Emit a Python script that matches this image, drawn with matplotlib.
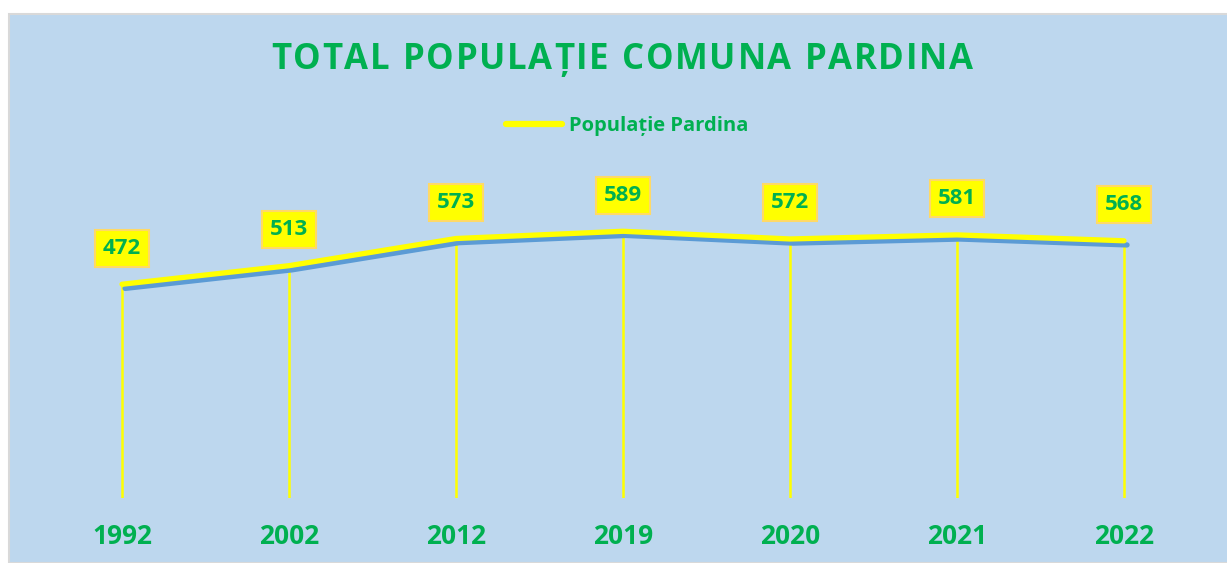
import matplotlib
matplotlib.use('Agg')
import matplotlib.pyplot as plt
import matplotlib.patheffects as pe
from matplotlib.patches import Rectangle

# data
years = ['1992', '2002', '2012', '2019', '2020', '2021', '2022']
population = [472, 513, 573, 589, 572, 581, 568]
series_name = 'Populație Pardina'
title = 'TOTAL POPULAȚIE COMUNA PARDINA'

GREEN = '#00B050'
YELLOW = '#FFFF00'
BG = '#BDD7EE'
SHADOW = '#5B9BD5'

plt.rcParams['font.family'] = ['Open Sans', 'DejaVu Sans']
plt.rcParams['font.weight'] = 'bold'

W, H = 1227, 563
fig = plt.figure(figsize=(W / 100, H / 100), dpi=100)
fig.patch.set_facecolor('white')

# chart area background with thin grey border
fig.patches.append(Rectangle((9 / W, 0), 1, 1 - 14 / H, transform=fig.transFigure,
                             facecolor=BG, edgecolor='#D9D9D9', linewidth=1.5, zorder=-5))

left, right, bottom, top = 38.5, 1207.5, 498, 181
ax = fig.add_axes([left / W, 1 - bottom / H, (right - left) / W, (bottom - top) / H])
ax.patch.set_alpha(0)

x = list(range(len(years)))
ax.vlines(x, 0, population, color=YELLOW, linewidth=1.8, zorder=2)
line, = ax.plot(x, population, color=YELLOW, linewidth=3.8, solid_capstyle='round',
                label=series_name, zorder=3,
                path_effects=[pe.SimpleLineShadow(offset=(2.2, -3), shadow_color=SHADOW, alpha=1, rho=1),
                              pe.Normal()])

for xi, v in zip(x, population):
    ax.annotate(str(v), (xi, v), xytext=(0, 26), textcoords='offset points',
                ha='center', va='center', color=GREEN, fontsize=16, fontweight='bold',
                bbox=dict(boxstyle='square,pad=0.36', facecolor=YELLOW, edgecolor='#FFD966', linewidth=1.5),
                zorder=5)

ax.set_xlim(-0.5, len(years) - 0.5)
ax.set_ylim(0, 700)
ax.set_xticks(x)
ax.set_xticklabels(years, color=GREEN, fontsize=19, fontweight='bold')
ax.tick_params(axis='x', length=0, pad=18)
ax.set_yticks([])
for s in ax.spines.values():
    s.set_visible(False)

# title with letter spacing: place char by char
renderer = fig.canvas.get_renderer()
spacing = 1.7  # px between letters
widths = []
for ch in title:
    t = fig.text(0, 0, ch if ch != ' ' else 'n', fontsize=25, fontweight='bold')
    w = t.get_window_extent(renderer).width
    t.remove()
    widths.append(w * (0.42 if ch == ' ' else 1.0))
total = sum(widths) + spacing * (len(title) - 1)
cx = 622 - total / 2
for ch, w in zip(title, widths):
    if ch != ' ':
        fig.text((cx + w / 2) / W, 1 - 60 / H, ch, ha='center', va='center', color=GREEN,
                 fontsize=25, fontweight='bold')
    cx += w + spacing

leg = ax.legend(handles=[line], loc='center', bbox_to_anchor=(627 / W, 1 - 126 / H),
                bbox_transform=fig.transFigure, frameon=False, handlelength=2.8,
                handletextpad=0.3, prop={'weight': 'bold', 'size': 14.5})
for t in leg.get_texts():
    t.set_color(GREEN)
leg.legend_handles[0].set_path_effects([])
leg.legend_handles[0].set_linewidth(4.5)

fig.savefig('out.png', dpi=100)
